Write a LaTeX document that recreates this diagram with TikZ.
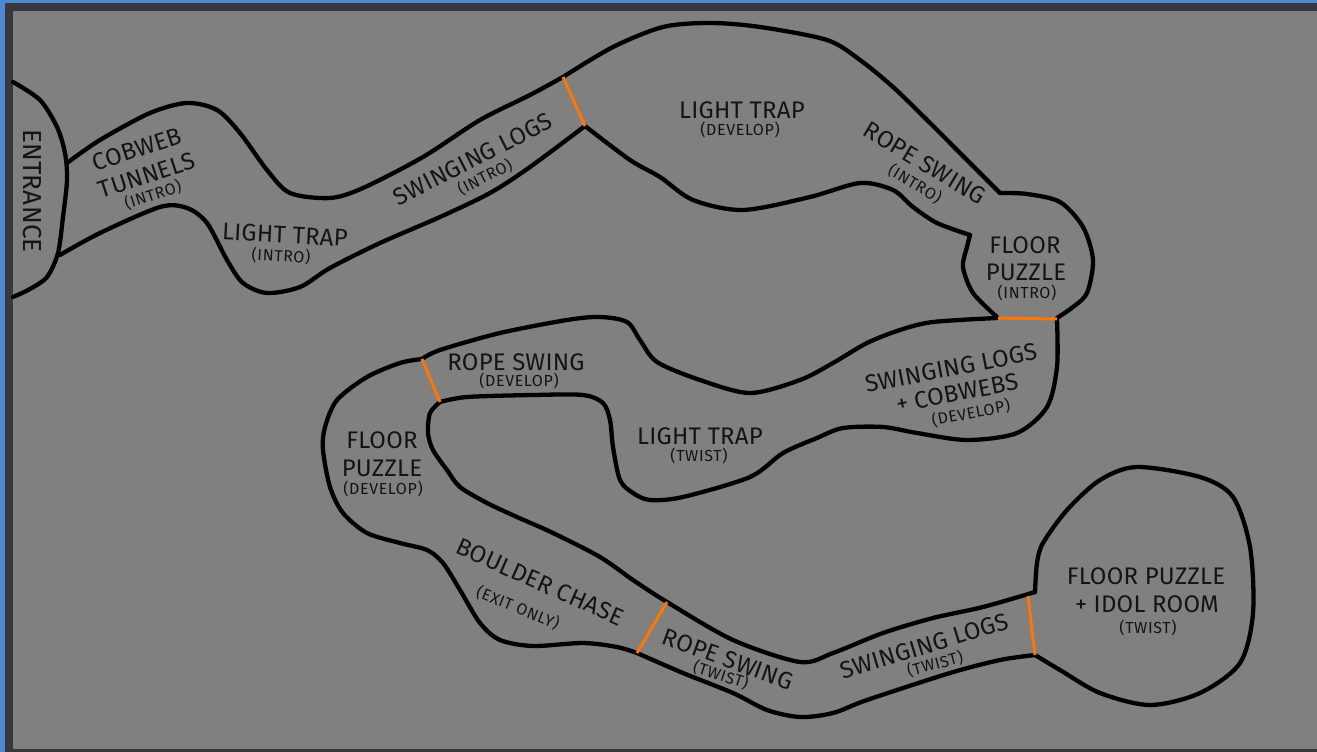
\documentclass[tikz,border=0pt]{standalone}
\usepackage{fontspec}
\setmainfont{Fira Sans}
\definecolor{blueedge}{RGB}{78,136,212}
\definecolor{darkedge}{RGB}{56,56,62}
\definecolor{mapgray}{RGB}{128,128,128}
\definecolor{doororange}{RGB}{255,118,0}
\definecolor{ink}{RGB}{20,20,20}
\begin{document}
\begin{tikzpicture}[x=1pt,y=-1pt,
  wall/.style={line width=4.3pt, black, line cap=round, line join=round},
  door/.style={line width=3pt, doororange},
  lbl/.style={font=\fontsize{24}{24}\selectfont\addfontfeature{LetterSpace=1}, text=ink, inner sep=0pt},
  sub/.style={font=\fontsize{16}{16}\selectfont\addfontfeature{LetterSpace=4}, text=ink, inner sep=0pt}]
\useasboundingbox (0,0) rectangle (1317,752);
\fill[blueedge] (0,0) rectangle (1317,752);
\fill[darkedge] (5,3) rectangle (1317,752);
\fill[mapgray] (13,11) rectangle (1317,749);

% ---------- section 1 ----------
\draw[wall] plot[smooth] coordinates {(13,82) (40,100) (57,127) (65,153) (67,180) (63,217) (58,253) (47,277) (30,289) (13,297)};
\draw[wall] plot[smooth] coordinates {(67,163) (100,140) (150,113) (187,103) (217,110) (240,133) (267,170) (290,193) (330,198) (363,188) (423,157) (480,120) (530,95) (563,77)};
\draw[wall] plot[smooth] coordinates {(563,77) (613,47) (663,27) (710,23) (760,27) (827,40) (860,60) (893,87) (927,120) (960,153) (1000,193)};
\draw[wall] plot[smooth] coordinates {(1000,193) (1027,194) (1060,202) (1083,227) (1093,260) (1087,293) (1073,307) (1057,318)};
\draw[wall] plot[smooth] coordinates {(997,317) (973,293) (963,267) (967,247) (970,235)};
\draw[wall] plot[smooth] coordinates {(970,235) (937,223) (913,207) (893,190) (860,183) (810,197) (743,210) (693,200) (660,177) (630,160) (585,126)};
\draw[wall] plot[smooth] coordinates {(60,255) (100,233) (160,207) (187,208) (207,223) (227,260) (243,283) (267,293) (300,287) (330,268) (380,243) (440,217) (490,193) (530,167) (585,126)};

% ---------- section 2 ----------
\draw[wall] plot[smooth] coordinates {(997,318) (933,322) (900,330) (867,343) (833,363) (800,380) (750,393) (700,380) (657,362) (640,340) (627,322) (600,317) (567,320) (500,333) (440,350) (422,359)};
\draw[wall] plot[smooth] coordinates {(422,359) (400,363) (367,377) (337,400) (325,427) (323,450) (330,487) (343,513) (367,533) (400,543) (427,550) (443,563) (460,590) (480,623) (500,640) (533,646) (583,643) (617,647) (637,653)};
\draw[wall] plot[smooth] coordinates {(637,653) (683,673) (733,693) (767,710) (800,717) (833,713) (867,700) (950,673) (1000,660) (1035,655)};
\draw[wall] plot[smooth] coordinates {(1035,655) (1060,670) (1100,693) (1150,705) (1200,693) (1240,663) (1253,613) (1250,547) (1233,497) (1200,477) (1137,467) (1100,480) (1067,510) (1043,543) (1037,563) (1035,592)};
\draw[wall] plot[smooth] coordinates {(1035,592) (983,607) (933,618) (883,633) (833,653) (800,662) (733,640) (667,602) (633,580) (600,557) (553,533) (517,517) (487,503) (460,487) (447,470) (433,450) (428,433) (430,413) (440,402)};
\draw[wall] plot[smooth] coordinates {(440,402) (467,397) (533,395) (583,395) (603,403) (610,420) (613,447) (620,480) (633,493) (650,500) (683,497) (750,477) (783,453) (817,438) (843,428) (883,427) (917,433) (967,440) (1017,433) (1047,407) (1057,367) (1057,320)};

% ---------- doors ----------
\draw[door] (563,77) -- (585,126);
\draw[door] (998,318) -- (1057,319);
\draw[door] (422,359) -- (440,402);
\draw[door] (637,653) -- (667,602);
\draw[door] (1028,596) -- (1035,655);

% ---------- labels ----------
\node[lbl, rotate=-90, font=\fontsize{26}{26}\selectfont\addfontfeature{LetterSpace=1}] (entr) at (32,191) {ENTRANCE};
\node[lbl, rotate=18] (cw1) at (137,149) {COBWEB};
\node[lbl, rotate=18] (cw2) at (147,175) {TUNNELS};
\node[sub, rotate=18] (cw3) at (153,195) {(INTRO)};
\node[lbl, rotate=-3] (lt1) at (285,235) {LIGHT TRAP};
\node[sub, rotate=-3] (lt1s) at (281,256) {(INTRO)};
\node[lbl, rotate=27] (sl1) at (473,159) {SWINGING LOGS};
\node[sub, rotate=27] (sl1s) at (485,177) {(INTRO)};
\node[lbl] (lt2) at (742,110) {LIGHT TRAP};
\node[sub] (lt2s) at (740,130) {(DEVELOP)};
\node[lbl, rotate=-31] (rs1) at (925,163) {ROPE SWING};
\node[sub, rotate=-31] (rs1s) at (915,184) {(INTRO)};
\node[lbl] (fp1a) at (1025,245) {FLOOR};
\node[lbl] (fp1b) at (1026,272) {PUZZLE};
\node[sub] (fp1s) at (1027,293) {(INTRO)};
\node[lbl] (rs2) at (516,362) {ROPE SWING};
\node[sub] (rs2s) at (519,381) {(DEVELOP)};
\node[lbl] (lt3) at (700,436) {LIGHT TRAP};
\node[sub] (lt3s) at (699,456) {(TWIST)};
\node[lbl, rotate=11] (sc1) at (951,368) {SWINGING LOGS};
\node[lbl, rotate=11] (sc2) at (957,393) {+ COBWEBS};
\node[sub, rotate=11] (sc3) at (971,413) {(DEVELOP)};
\node[lbl] (fp2a) at (382,440) {FLOOR};
\node[lbl] (fp2b) at (382,468) {PUZZLE};
\node[sub] (fp2s) at (383,489) {(DEVELOP)};
\node[lbl, rotate=-24] (bc) at (540,582) {BOULDER CHASE};
\node[sub, rotate=-22] (bcs) at (518,608) {(EXIT ONLY)};
\node[lbl, rotate=-20] (rs3) at (728,659) {ROPE SWING};
\node[sub, rotate=-18] (rs3s) at (721,675) {(TWIST)};
\node[lbl, rotate=17] (sl3) at (924,646) {SWINGING LOGS};
\node[sub, rotate=15] (sl3s) at (935,664) {(TWIST)};
\node[lbl] (ir1) at (1146,576) {FLOOR PUZZLE};
\node[lbl] (ir2) at (1147,604) {+ IDOL ROOM};
\node[sub] (ir3) at (1148,628) {(TWIST)};
\end{tikzpicture}
\end{document}
